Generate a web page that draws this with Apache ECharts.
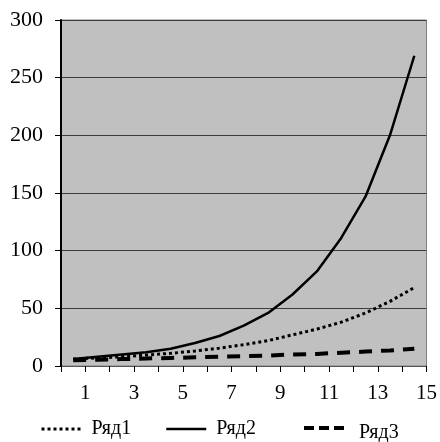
<!DOCTYPE html>
<html>
<head>
<meta charset="utf-8">
<script src="https://cdn.jsdelivr.net/npm/echarts@6/dist/echarts.min.js"></script>
<style>
html,body{margin:0;padding:0;background:#fff;}
#c{width:440px;height:442px;}
</style>
</head>
<body>
<div id="c"></div>
<script>
var categories = [1, 2, 3, 4, 5, 6, 7, 8, 9, 10, 11, 12, 13, 14, 15];
var xTickLabels = ['1', '3', '5', '7', '9', '11', '13', '15'];
var yTickLabels = [0, 50, 100, 150, 200, 250, 300];
var seriesNames = ['Ряд1', 'Ряд2', 'Ряд3'];
var row1 = [6, 7, 8, 9.5, 11, 13, 15.5, 18.5, 22, 27, 32, 38, 46, 56, 68];
var row2 = [6, 8, 10, 12, 15, 20, 26, 35, 46, 62, 82, 111, 147, 200, 269];
var row3 = [5, 5.5, 6, 6.5, 7, 7.5, 8, 8.5, 9, 10, 10.5, 11.5, 12.5, 13.5, 15];

function pts(vals) {
  return categories.map(function (c, i) { return [c - 0.5, vals[i]]; });
}
var font = '"Liberation Serif", "Times New Roman", serif';
var chart = echarts.init(document.getElementById('c'));
var styles = [
  { color: '#000', width: 3, type: [3, 3], cap: 'butt' },
  { color: '#000', width: 2.5, type: 'solid' },
  { color: '#000', width: 4, type: [13, 9], cap: 'butt' }
];
var legendBase = {
  orient: 'horizontal', top: 414, itemWidth: 40, itemHeight: 8,
  itemStyle: { opacity: 0 },
  textStyle: { fontFamily: font, fontSize: 20, color: '#000', padding: [0, 0, 0, 5] },
  selectedMode: false
};
chart.setOption({
  animation: false,
  backgroundColor: '#fff',
  grid: { left: 61, right: 9, top: 20, bottom: 76, show: true, backgroundColor: '#c0c0c0', borderColor: '#808080', borderWidth: 1 },
  legend: [
    Object.assign({}, legendBase, { left: 35, data: [seriesNames[0]], lineStyle: styles[0] }),
    Object.assign({}, legendBase, { left: 160, data: [seriesNames[1]], lineStyle: styles[1] }),
    Object.assign({}, legendBase, { left: 297, top: 418, data: [seriesNames[2]], lineStyle: { color: '#000', width: 4, type: [10, 5], cap: 'butt' },
      formatter: function (n) { return '{a|' + n + '}'; },
      textStyle: Object.assign({}, legendBase.textStyle, { padding: [0, 0, 0, 10],
        rich: { a: { fontFamily: font, fontSize: 20, color: '#000', padding: [10, 0, 0, 0] } } }) })
  ],
  xAxis: {
    type: 'value', min: 0, max: 15, interval: 1,
    axisLine: { lineStyle: { color: '#555', width: 1 } },
    axisTick: { show: true, length: 6, lineStyle: { color: '#000', width: 1 } },
    splitLine: { show: false },
    axisLabel: {
      showMinLabel: true, showMaxLabel: true, margin: 17,
      fontFamily: font, fontSize: 21, color: '#000',
      formatter: function (v) { var s = String(v); return xTickLabels.indexOf(s) >= 0 ? s : ''; }
    }
  },
  yAxis: {
    type: 'value', min: 0, max: 300, interval: 50,
    axisLine: { show: true, lineStyle: { color: '#000', width: 2 } },
    axisTick: { show: true, length: 6, lineStyle: { color: '#000', width: 1 } },
    splitLine: { show: true, lineStyle: { color: '#3c3c3c', width: 1 } },
    axisLabel: {
      margin: 18, fontFamily: font, fontSize: 22, color: '#000',
      formatter: function (v) { return yTickLabels.indexOf(v) >= 0 ? String(v) : ''; }
    }
  },
  series: [
    { name: seriesNames[0], type: 'line', data: pts(row1), symbol: 'none', color: '#000', lineStyle: styles[0] },
    { name: seriesNames[1], type: 'line', data: pts(row2), symbol: 'none', color: '#000', lineStyle: styles[1] },
    { name: seriesNames[2], type: 'line', data: pts(row3), symbol: 'none', color: '#000', lineStyle: styles[2] }
  ]
});
</script>
</body>
</html>
